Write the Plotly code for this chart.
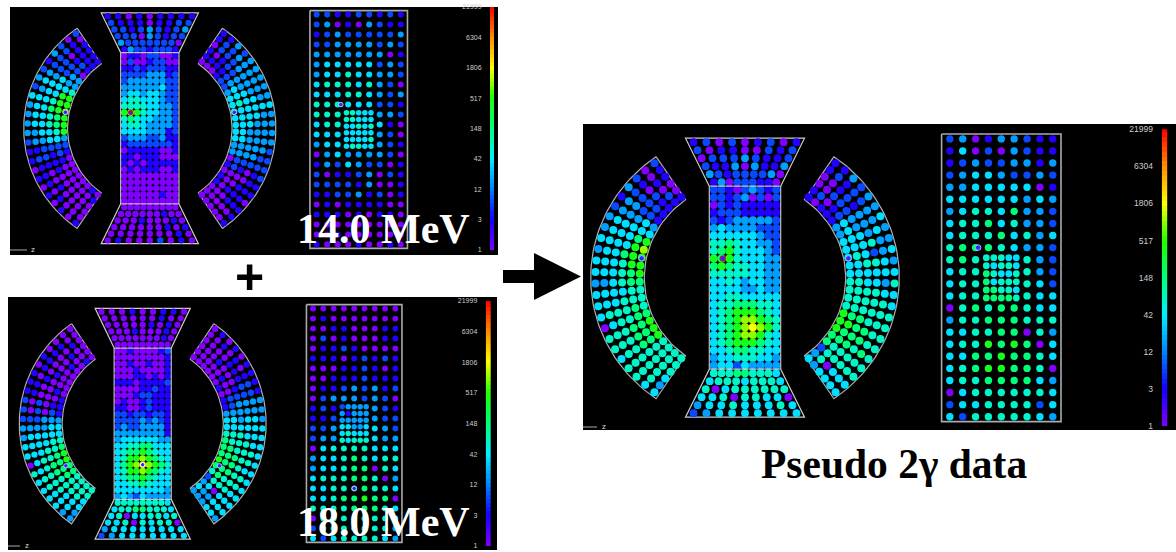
import numpy as np
import plotly.graph_objects as go

# Colour levels seen in the picture (digit -> counts on the log colour scale); '-' = no crystal
LEVEL_COUNTS = [1, 3, 7, 17, 35, 70, 148, 400, 1000, 1806]
TICK_LABELS = ["1", "3", "12", "42", "148", "517", "1806", "6304", "21999"]

P14_LEFT = ["201111","011111","220121","322220","122233","233433","344445","234477","444577","344678","344567","344567","334457",
            "233443","112222","122121","011110","110100","010000","101000","010000","100000","000001","100010"]
P14_RIGHT = ["110110","122010","322110","232211","333222","333332","333343","333444","334454","444445","334444","333444",
             "333344","333344","233333","223333","222220","210121","110000","111001","011101","111000","100000","100000"]
P14_TOP = ["132212221","322222220","222032122","221232123","211101122","110101111"]
P14_MID = ["011022001","020012200","112122211","222233312","233333322","333333422","344344322","455444322","555544332","787544332","565443332",
           "455433332","444433312","233322311","122222221","011111001","110111000","101011111","010111001","000000000","000000000",
           "000000000","000000100","000000000"]
P14_BOT = ["000000000","000000100","000100010","000000101","000000010","010002010"]
P14_BACK = ["221122121","230103211","123222223","223333232","333333301","344444232","344544332","455545320","444554323","555444221",
            "555---332","455---410","444---320","344---321","034333320","132432201","201123021","222213001","112231201","010111100",
            "111010110","000000000","001000000","100010010"]
P14_BLOCK = ["55444","55444","44545","44444","44445","45544"]

P18_LEFT = ["000000","001001","010100","010010","110000","010100","101000","110010","110001","202011","202021","222333",
            "333344","344444","444455","444556","045567","545667","455666","455566","445555","444555","344555","334455"]
P18_RIGHT = ["000000","100000","010000","100100","011000","101010","111001","122100","122221","333321","333333",
             "344344","444444","444555","445556","455566","455666","445667","455666","455565","445552","444043","444334","344333"]
P18_TOP = ["000000000","000000010","000100010","000001010","000000100","000100110"]
P18_MID = ["001000012","000000001","001001001","000100001","000110101","111011112","000011211","000122111","010012111","110012111",
           "221221221","222232321","232233331","333333331","344444433","445566444","456676544","457787654","467898765","457787654","456676544",
           "445565444","444444443","343243333"]
P18_BOT = ["555555554","455665554","450445545","445054550","344444444","234444444"]
P18_BACK = ["000000000","010000000","001100011","020100011","011210000","111012121","000112101","001112111","011232312","023332320",
            "121---321","112---322","223---432","233---433","045555444","344565455","344566054","455566503","445566554","445667660",
            "555566654","055565554","255556553","424555543"]
P18_BLOCK = ["23333","31333","33333","44334","45444","54555"]

P2G_LEFT = ["211001","001021","210211","322221","133221","233343","344444","344467","444478","344677","444577","444567",
            "334566","444455","444555","455565","045566","555667","555667","455667","555555","555555","455555","434555"]
P2G_RIGHT = ["110011","120020","311201","222211","321221","333343","433343","343444","335444","432454","345544","444444",
             "534455","445555","455555","555555","555667","556677","556667","565666","555556","555552","444053","444434"]
P2G_TOP = ["130222110","321222230","211303113","022232112","201100212","120201201"]
P2G_MID = ["221023212","221230202","021211111","122211111","212333332","343333222","444444322","556544332","567544432","767544433",
           "676554433","555554433","445434433","444433433","445544444","455666554","456777654","456788765","456789875","456788754",
           "456777654","445665544","344555443","344243333"]
P2G_BOT = ["555665554","455545554","504555555","445055440","344544454","234444444"]
P2G_BACK = ["230133211","140203211","123223313","234432232","334444401","444444343","345546332","455645332","455564534","566654332",
            "565---532","455---532","455---542","455---544","056566544","355666555","445566053","455767604","446676654","456776650",
            "455666643","045555554","244555524","425555543"]
P2G_BLOCK = ["55544","54554","65445","64555","66554","66665"]

# Small flagged crystals: (left arc index, right arc index, mid row, mid col, back row, back col)
P14_RINGS = (9.1, 9.1, 9, 1.0, 9, 2.3)
P18_RINGS = (17.8, 17.8, 18, 4.0, 18, 4.0)
P2G_RINGS = (9.1, 9.1, 9, 1.14, 9, 2.2)

# Panel pixel boxes: left, right, top, bottom, front centre x,y, back centre x,y, scale x,y, colourbar box
PANELS = [
    dict(name="14", box=(10, 498, 7, 255), c=(149.8, 128.3), b=(358.7, 129.5), s=(.817, .827), bar=(490, 494, 7, 250), font=7, z=(10, 27, 250, 33)),
    dict(name="18", box=(8, 497, 297, 550), c=(142.7, 423.7), b=(354.2, 423.5), s=(.80, .827), bar=(485.7, 491, 301, 546), font=7, z=(8, 20, 546, 27)),
    dict(name="2g", box=(583, 1176, 124, 430), c=(745, 277.7), b=(1001.3, 277.8), s=(1, 1), bar=(1161.7, 1167.3, 129.3, 426), font=8.5, z=(583, 597, 427, 604)),
]
DATA = {
    "14": (P14_LEFT, P14_RIGHT, P14_TOP, P14_MID, P14_BOT, P14_BACK, P14_BLOCK, P14_RINGS),
    "18": (P18_LEFT, P18_RIGHT, P18_TOP, P18_MID, P18_BOT, P18_BACK, P18_BLOCK, P18_RINGS),
    "2g": (P2G_LEFT, P2G_RIGHT, P2G_TOP, P2G_MID, P2G_BOT, P2G_BACK, P2G_BLOCK, P2G_RINGS),
}

W, H = 1176, 552
CMAX = np.log10(21999)
SCALE = [[0, "rgb(128,0,255)"], [.125, "rgb(20,0,255)"], [.25, "rgb(0,130,255)"], [.375, "rgb(0,240,255)"],
         [.5, "rgb(0,255,120)"], [.625, "rgb(30,255,0)"], [.75, "rgb(255,255,0)"], [.875, "rgb(255,140,0)"], [1, "rgb(255,0,0)"]]
RADII = [149.7, 140.8, 131.9, 123.0, 114.1, 105.3]
YK = 0.96


def arc_xy(side, layer, j):
    th = np.radians(-52.8 + 4.59 * j)
    r = np.interp(layer, range(6), RADII)
    return side * r * np.cos(th), YK * r * np.sin(th)


def mid_xy(r, c):
    return (c - 4) * 7.8, (r - 11.5) * 7.64


def trap_xy(sign, r, c):
    t = r if sign > 0 else 5 - r
    hw = 31.2 + (51.5 - 31.2) * t / 5
    return hw * (c - 4) / 4, sign * (95.5 + 8 * t)


def back_xy(r, c, dx, dy):
    return dx + (c - 4) * 12.87, dy + (r - 11.5) * 12.08


def block_xy(r, c, dx, dy):
    return dx + (c - 2) * 7.5, dy + (r - 2.5) * 8.07


def collect(rows, fn):
    xs, ys, vs = [], [], []
    for r, row in enumerate(rows):
        for c, ch in enumerate(row):
            if ch == "-":
                continue
            x, y = fn(r, c)
            xs.append(x); ys.append(y); vs.append(np.log10(LEVEL_COUNTS[int(ch)]))
    return xs, ys, vs


fig = go.Figure()
layout = dict(
    width=W, height=H, margin=dict(l=0, r=0, t=0, b=0, pad=0, autoexpand=False), paper_bgcolor="white", plot_bgcolor="black",
    showlegend=False, hovermode=False,
)
annotations, shapes = [], []


def px(x):
    return x / W


def py(y):
    return 1 - y / H


for i, p in enumerate(PANELS):
    ax = i + 1
    L, R, T, B = p["box"]
    cx, cy = p["c"]
    sx, sy = p["s"]
    dx, dy = (p["b"][0] - cx) / sx, (p["b"][1] - cy) / sy
    xa, ya = f"x{ax}", f"y{ax}"
    off = dict(visible=False, fixedrange=True, automargin=False)
    layout[f"xaxis{ax}"] = dict(domain=[px(L), px(R)], range=[(L - cx) / sx, (R - cx) / sx], anchor=ya, **off)
    layout[f"yaxis{ax}"] = dict(domain=[py(B), py(T)], range=[(B - cy) / sy, (T - cy) / sy], anchor=xa, **off)
    left, right, top, mid, bot, back, block, rings = DATA[p["name"]]

    # outlines
    a_out = np.radians(np.linspace(-54.8, 54.8, 60))
    a_in = np.radians(np.linspace(53.8, -53.8, 40))
    for side in (-1, 1):
        ox = list(side * 154.3 * np.cos(a_out)) + list(side * 100.7 * np.cos(a_in))
        oy = list(YK * 154.3 * np.sin(a_out)) + list(YK * 100.7 * np.sin(a_in))
        ox.append(ox[0]); oy.append(oy[0])
        fig.add_trace(go.Scatter(x=ox, y=oy, mode="lines", line=dict(color="rgb(175,175,175)", width=1.2), xaxis=xa, yaxis=ya))
    for sign in (-1, 1):
        fig.add_trace(go.Scatter(x=[-35.7, -59.5, 59.5, 35.7], y=[sign * 91.5, sign * 139.5, sign * 139.5, sign * 91.5], mode="lines",
                                 line=dict(color="rgb(205,205,205)", width=1.2), xaxis=xa, yaxis=ya))
    fig.add_trace(go.Scatter(x=[dx - 59.7, dx + 59.7, dx + 59.7, dx - 59.7, dx - 59.7], y=[dy - 143.8, dy - 143.8, dy + 143.8, dy + 143.8, dy - 143.8],
                             mode="lines", line=dict(color="rgb(170,170,170)", width=1.6), xaxis=xa, yaxis=ya))

    k = min(sx, sy) if i < 2 else 1
    groups = [
        (left, lambda r, c: arc_xy(-1, c, r), 8.0),
        (right, lambda r, c: arc_xy(1, c, r), 8.0),
        (top, lambda r, c: trap_xy(-1, 5 - r, c), 7.8),
        (bot, lambda r, c: trap_xy(1, r, c), 7.8),
        (mid, mid_xy, 8.2),
        (back, lambda r, c: back_xy(r, c, dx, dy), 7.4),
        (block, lambda r, c: block_xy(r, c, dx, dy), 6.8),
    ]
    for rows, fn, size in groups:
        xs, ys, vs = collect(rows, fn)
        fig.add_trace(go.Scatter(x=xs, y=ys, mode="markers", xaxis=xa, yaxis=ya,
                                 marker=dict(size=size * k, color=vs, cmin=0, cmax=CMAX, colorscale=SCALE, line=dict(width=0))))
    # rect edges above the dots
    fig.add_trace(go.Scatter(x=[-35.7, -35.7, None, 35.7, 35.7, None, -35.7, 35.7, None, -35.7, 35.7],
                             y=[-91.5, 91.5, None, -91.5, 91.5, None, -91.5, -91.5, None, 91.5, 91.5], mode="lines",
                             line=dict(color="rgba(235,235,235,.8)", width=1.2), xaxis=xa, yaxis=ya))
    # flagged crystals
    jl, jr, mr, mc, br, bc = rings
    pts = [arc_xy(-1, 5.2 if i != 1 else 4.5, jl), arc_xy(1, 5.2 if i != 1 else 4.5, jr), mid_xy(mr, mc), back_xy(br, bc, dx, dy)]
    edge = ["rgb(190,190,255)", "rgb(190,190,255)", "red" if i != 1 else "white", "rgb(190,190,255)"]
    fig.add_trace(go.Scatter(x=[q[0] for q in pts], y=[q[1] for q in pts], mode="markers", xaxis=xa, yaxis=ya,
                             marker=dict(size=5.5 * k, color="rgb(40,40,255)", line=dict(color=edge, width=1))))

    # colour bar
    bx = ax + 3
    x0, x1, y0, y1 = p["bar"]
    tick_pos = [n / 8 * CMAX for n in range(9)]
    bar_z = np.linspace(0, CMAX, 61)
    fig.add_trace(go.Heatmap(z=[[v] for v in bar_z], y=bar_z, x=[0], zmin=0, zmax=CMAX, colorscale=SCALE, showscale=False,
                             xaxis=f"x{bx}", yaxis=f"y{bx}"))
    layout[f"xaxis{bx}"] = dict(domain=[px(x0), px(x1)], visible=False, fixedrange=True, anchor=f"y{bx}", automargin=False)
    layout[f"yaxis{bx}"] = dict(domain=[py(y1), py(y0)], range=[0, CMAX], anchor=f"x{bx}", side="left", showgrid=False, zeroline=False,
                                showline=False, tickmode="array", tickvals=tick_pos, ticktext=TICK_LABELS, ticks="outside",
                                ticklen=6, tickcolor="rgba(0,0,0,0)", fixedrange=True, automargin=False,
                                tickfont=dict(family="Liberation Sans", size=p["font"], color="rgb(205,205,205)"))

    # z scale mark
    zx0, zx1, zy, ztx = p["z"]
    shapes.append(dict(type="line", xref="paper", yref="paper", x0=px(zx0), x1=px(zx1), y0=py(zy), y1=py(zy),
                       line=dict(color="rgb(170,170,170)", width=1)))
    annotations.append(dict(text="z", x=px(ztx), y=py(zy - 1), xref="paper", yref="paper", showarrow=False, xanchor="center", yanchor="middle",
                            font=dict(family="Liberation Sans", size=8, color="rgb(215,215,215)")))

SERIF = "Liberation Serif"
for text, x, y, color, size, fam in [
    ("<b>14.0 MeV</b>", 384, 229, "white", 42, SERIF),
    ("<b>18.0 MeV</b>", 384, 522, "white", 42, SERIF),
    ("<b>Pseudo 2γ data</b>", 894, 464, "black", 41.5, SERIF),
    ("<b>+</b>", 250, 277, "black", 50, "Liberation Sans"),
]:
    annotations.append(dict(text=text, x=px(x), y=py(y), xref="paper", yref="paper", showarrow=False, xanchor="center", yanchor="middle",
                            font=dict(family=fam, size=size, color=color)))

arrow = [(503, 270), (534, 270), (534, 253), (581, 276.5), (534, 300), (534, 283), (503, 283)]
path = "M " + " L ".join(f"{px(a):.5f},{py(b):.5f}" for a, b in arrow) + " Z"
shapes.append(dict(type="path", xref="paper", yref="paper", path=path, fillcolor="black", line=dict(width=0)))

layout["annotations"] = annotations
layout["shapes"] = shapes
fig.update_layout(**layout)
fig.write_html("out.html", config={"displayModeBar": False},
               post_script="document.body.style.margin='0';document.body.style.overflow='hidden';")
